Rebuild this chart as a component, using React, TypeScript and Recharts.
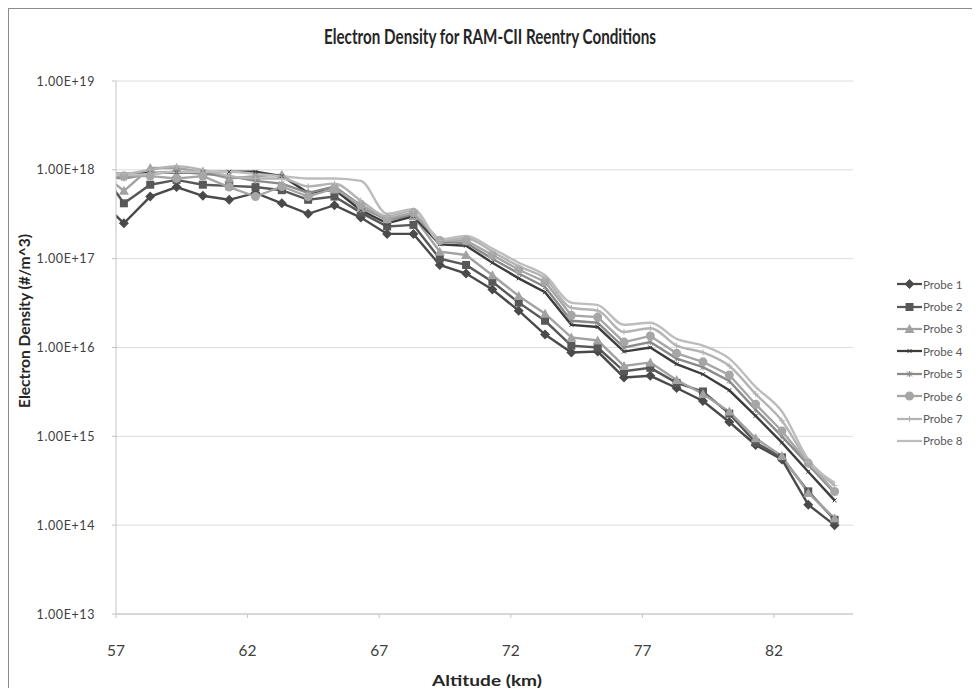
import React from "react";
import { LineChart, Line, XAxis, YAxis, CartesianGrid } from "recharts";

// altitude of each sample (km); the first one sits just left of the axis and is clipped
const ALTITUDES = [
  56.3, 57.3, 58.3, 59.3, 60.3, 61.3, 62.3, 63.3, 64.3, 65.3, 66.3, 67.3, 68.3, 69.3, 70.3,
  71.3, 72.3, 73.3, 74.3, 75.3, 76.3, 77.3, 78.3, 79.3, 80.3, 81.3, 82.3, 83.3, 84.3,
];

const PROBE_1 = [
  4.8e17, 2.5e17, 5.0e17, 6.4e17, 5.1e17, 4.6e17, 5.5e17, 4.2e17, 3.2e17, 4.0e17, 2.9e17, 1.9e17, 1.9e17, 8.5e16, 6.8e16,
  4.5e16, 2.6e16, 1.4e16, 8.8e15, 9.0e15, 4.6e15, 4.8e15, 3.5e15, 2.5e15, 1.45e15, 8.0e14, 5.5e14, 1.7e14, 1.0e14,
];
const PROBE_2 = [
  1.1e18, 4.2e17, 6.8e17, 7.7e17, 6.8e17, 6.6e17, 6.4e17, 5.9e17, 4.6e17, 5.0e17, 3.3e17, 2.3e17, 2.4e17, 1.0e17, 8.5e16,
  5.5e16, 3.2e16, 2.0e16, 1.05e16, 1.0e16, 5.4e15, 5.9e15, 4.0e15, 3.2e15, 1.8e15, 8.5e14, 5.8e14, 2.4e14, 1.15e14,
];
const PROBE_3 = [
  1.0e18, 5.8e17, 1.05e18, 1.05e18, 9.5e17, 8.0e17, 8.5e17, 8.8e17, 5.5e17, 6.0e17, 3.7e17, 2.8e17, 3.0e17, 1.2e17, 1.1e17,
  6.5e16, 3.8e16, 2.4e16, 1.3e16, 1.2e16, 6.2e15, 6.8e15, 4.3e15, 3.0e15, 1.9e15, 9.5e14, 6.0e14, 2.3e14, 1.2e14,
];
const PROBE_4 = [
  9.2e17, 9.0e17, 9.2e17, 9.3e17, 9.4e17, 9.5e17, 9.5e17, 8.5e17, 5.5e17, 6.0e17, 3.5e17, 2.5e17, 3.0e17, 1.45e17, 1.4e17,
  9.0e16, 6.0e16, 4.2e16, 1.8e16, 1.7e16, 9.0e15, 1.0e16, 6.5e15, 5.0e15, 3.3e15, 1.7e15, 8.5e14, 4.0e14, 1.9e14,
];
const PROBE_5 = [
  8.5e17, 8.0e17, 9.0e17, 9.5e17, 9.0e17, 8.5e17, 7.5e17, 7.0e17, 5.5e17, 6.5e17, 4.0e17, 2.7e17, 3.2e17, 1.55e17, 1.5e17,
  1.0e17, 6.8e16, 4.8e16, 2.0e16, 1.9e16, 1.0e16, 1.15e16, 7.5e15, 6.0e15, 4.2e15, 2.0e15, 1.0e15, 4.8e14, 2.3e14,
];
const PROBE_6 = [
  8.5e17, 8.5e17, 8.5e17, 8.0e17, 8.5e17, 6.4e17, 5.0e17, 6.5e17, 5.0e17, 6.2e17, 4.0e17, 2.8e17, 3.3e17, 1.6e17, 1.6e17,
  1.1e17, 7.5e16, 5.5e16, 2.3e16, 2.2e16, 1.15e16, 1.35e16, 8.6e15, 6.9e15, 4.9e15, 2.3e15, 1.15e15, 5.0e14, 2.4e14,
];
const PROBE_7 = [
  9.0e17, 9.0e17, 1.0e18, 1.1e18, 1.0e18, 8.5e17, 8.0e17, 8.0e17, 6.5e17, 7.0e17, 4.5e17, 3.0e17, 3.5e17, 1.6e17, 1.7e17,
  1.2e17, 8.2e16, 6.0e16, 2.8e16, 2.6e16, 1.5e16, 1.65e16, 1.05e16, 8.8e15, 6.2e15, 3.0e15, 1.5e15, 5.2e14, 2.8e14,
];
const PROBE_8 = [
  8.8e17, 8.8e17, 9.0e17, 9.5e17, 9.5e17, 9.5e17, 9.0e17, 8.5e17, 8.0e17, 8.0e17, 7.5e17, 3.2e17, 3.6e17, 1.65e17, 1.8e17,
  1.3e17, 9.0e16, 6.5e16, 3.2e16, 3.0e16, 1.8e16, 1.9e16, 1.25e16, 1.05e16, 7.5e15, 3.6e15, 1.9e15, 5.5e14, 3.0e14,
];

const PROBE_NAMES = ["Probe 1", "Probe 2", "Probe 3", "Probe 4", "Probe 5", "Probe 6", "Probe 7", "Probe 8"];
const X_TICKS = [57, 62, 67, 72, 77, 82];
const Y_TICKS = [1e13, 1e14, 1e15, 1e16, 1e17, 1e18, 1e19];

type Marker = "diamond" | "square" | "triangle" | "cross" | "star" | "circle" | "plus" | "none";

interface Series {
  key: string;
  name: string;
  values: number[];
  color: string;
  marker: Marker;
  curve: "linear" | "monotone";
}

const SERIES: Series[] = [
  { key: "p1", name: PROBE_NAMES[0], values: PROBE_1, color: "#4a4a4a", marker: "diamond", curve: "linear" },
  { key: "p2", name: PROBE_NAMES[1], values: PROBE_2, color: "#585858", marker: "square", curve: "linear" },
  { key: "p3", name: PROBE_NAMES[2], values: PROBE_3, color: "#a2a2a2", marker: "triangle", curve: "linear" },
  { key: "p4", name: PROBE_NAMES[3], values: PROBE_4, color: "#3c3c3c", marker: "cross", curve: "linear" },
  { key: "p5", name: PROBE_NAMES[4], values: PROBE_5, color: "#8a8a8a", marker: "star", curve: "linear" },
  { key: "p6", name: PROBE_NAMES[5], values: PROBE_6, color: "#a6a6a6", marker: "circle", curve: "linear" },
  { key: "p7", name: PROBE_NAMES[6], values: PROBE_7, color: "#b4b4b4", marker: "plus", curve: "monotone" },
  { key: "p8", name: PROBE_NAMES[7], values: PROBE_8, color: "#bdbdbd", marker: "none", curve: "monotone" },
];

const rows = ALTITUDES.map((alt, i) => {
  const row: Record<string, number> = { alt };
  SERIES.forEach((s) => {
    row[s.key] = s.values[i];
  });
  return row;
});

const FONT = "Lato, 'Open Sans', sans-serif";

function markerShape(kind: Marker, cx: number, cy: number, color: string) {
  switch (kind) {
    case "diamond":
      return <polygon points={`${cx},${cy - 5} ${cx + 5},${cy} ${cx},${cy + 5} ${cx - 5},${cy}`} fill={color} />;
    case "square":
      return <rect x={cx - 4} y={cy - 4} width={8} height={8} fill={color} />;
    case "triangle":
      return <polygon points={`${cx},${cy - 5} ${cx + 5},${cy + 4} ${cx - 5},${cy + 4}`} fill={color} />;
    case "circle":
      return <circle cx={cx} cy={cy} r={4.5} fill={color} />;
    case "cross":
      return (
        <path d={`M${cx - 2},${cy - 2}L${cx + 2},${cy + 2}M${cx - 2},${cy + 2}L${cx + 2},${cy - 2}`} stroke={color} strokeWidth={1} />
      );
    case "star":
      return (
        <path
          d={`M${cx - 2.5},${cy - 2.5}L${cx + 2.5},${cy + 2.5}M${cx - 2.5},${cy + 2.5}L${cx + 2.5},${cy - 2.5}M${cx},${cy - 3}L${cx},${cy + 3}`}
          stroke={color}
          strokeWidth={1}
        />
      );
    case "plus":
      return <path d={`M${cx - 3},${cy}L${cx + 3},${cy}M${cx},${cy - 3}L${cx},${cy + 3}`} stroke={color} strokeWidth={1} />;
    default:
      return null;
  }
}

const makeDot = (s: Series) => (props: any) => {
  const { cx, cy, index } = props;
  if (cx == null || cy == null || s.marker === "none") return <g key={`${s.key}-${index}`} />;
  return <g key={`${s.key}-${index}`}>{markerShape(s.marker, cx, cy, s.color)}</g>;
};

const fmtExp = (v: number) => v.toExponential(2).toUpperCase();

function YTick(props: any) {
  const { x, y, payload } = props;
  return (
    <text x={x} y={y} dy={4.5} textAnchor="end" fontSize={12.5} fill="#404040" fontFamily={FONT} letterSpacing={0.6}>
      {fmtExp(payload.value)}
    </text>
  );
}

function XTick(props: any) {
  const { x, y, payload } = props;
  return (
    <text x={x} y={y} dy={11} textAnchor="middle" fontSize={15.5} fill="#404040" fontFamily={FONT}>
      {payload.value}
    </text>
  );
}

function LegendBox() {
  return (
    <div style={{ position: "absolute", left: 888, top: 264, fontFamily: FONT, fontSize: 11.5, color: "#595959" }}>
      {SERIES.map((s) => (
        <div key={s.key} style={{ display: "flex", alignItems: "center", height: 22.4 }}>
          <svg width={25} height={12}>
            <line x1={0} y1={6} x2={25} y2={6} stroke={s.color} strokeWidth={2.25} />
            {markerShape(s.marker, 12.5, 6, s.color)}
          </svg>
          <span style={{ marginLeft: 1 }}>{s.name}</span>
        </div>
      ))}
    </div>
  );
}

export default function App() {
  return (
    <div
      style={{
        position: "relative",
        width: 972,
        height: 688,
        marginBottom: -8,
        border: "1px solid #8c8c8c",
        boxSizing: "border-box",
        background: "#ffffff",
        fontFamily: FONT,
      }}
    >
      <LineChart width={970} height={686} data={rows} margin={{ top: 72, right: 126, bottom: 0, left: 0 }}>
        <CartesianGrid vertical={false} stroke="#dcdcdc" />
        <XAxis
          dataKey="alt"
          type="number"
          domain={[57, 85]}
          ticks={X_TICKS}
          interval={0}
          allowDataOverflow
          height={81}
          tick={<XTick />}
          tickSize={4}
          tickMargin={27}
          axisLine={{ stroke: "#c4c4c4" }}
          tickLine={{ stroke: "#c4c4c4" }}
        />
        <YAxis
          type="number"
          scale="log"
          domain={[1e13, 1e19]}
          ticks={Y_TICKS}
          interval={0}
          allowDataOverflow
          width={107}
          tick={<YTick />}
          tickSize={4}
          tickMargin={17}
          axisLine={{ stroke: "#c4c4c4" }}
          tickLine={{ stroke: "#c4c4c4" }}
        />
        {SERIES.map((s) => (
          <Line
            key={s.key}
            type={s.curve}
            dataKey={s.key}
            name={s.name}
            stroke={s.color}
            strokeWidth={2.4}
            dot={makeDot(s)}
            activeDot={false}
            isAnimationActive={false}
          />
        ))}
      </LineChart>
      <svg width={970} height={686} style={{ position: "absolute", left: 0, top: 0, pointerEvents: "none" }}>
        <text
          x={481}
          y={35}
          textAnchor="middle"
          fontSize={21}
          fontWeight="bold"
          fill="#262626"
          fontFamily={FONT}
          textLength={332}
          lengthAdjust="spacingAndGlyphs"
        >
          Electron Density for RAM-CII Reentry Conditions
        </text>
        <text
          transform="translate(21,312) rotate(-90)"
          textAnchor="middle"
          fontSize={15}
          fontWeight="bold"
          fill="#262626"
          fontFamily={FONT}
          textLength={174}
          lengthAdjust="spacingAndGlyphs"
        >
          Electron Density (#/m^3)
        </text>
        <text
          x={478}
          y={677}
          textAnchor="middle"
          fontSize={16}
          fontWeight="bold"
          fill="#262626"
          fontFamily={FONT}
          textLength={110}
          lengthAdjust="spacingAndGlyphs"
        >
          Altitude (km)
        </text>
      </svg>
      <LegendBox />
    </div>
  );
}
